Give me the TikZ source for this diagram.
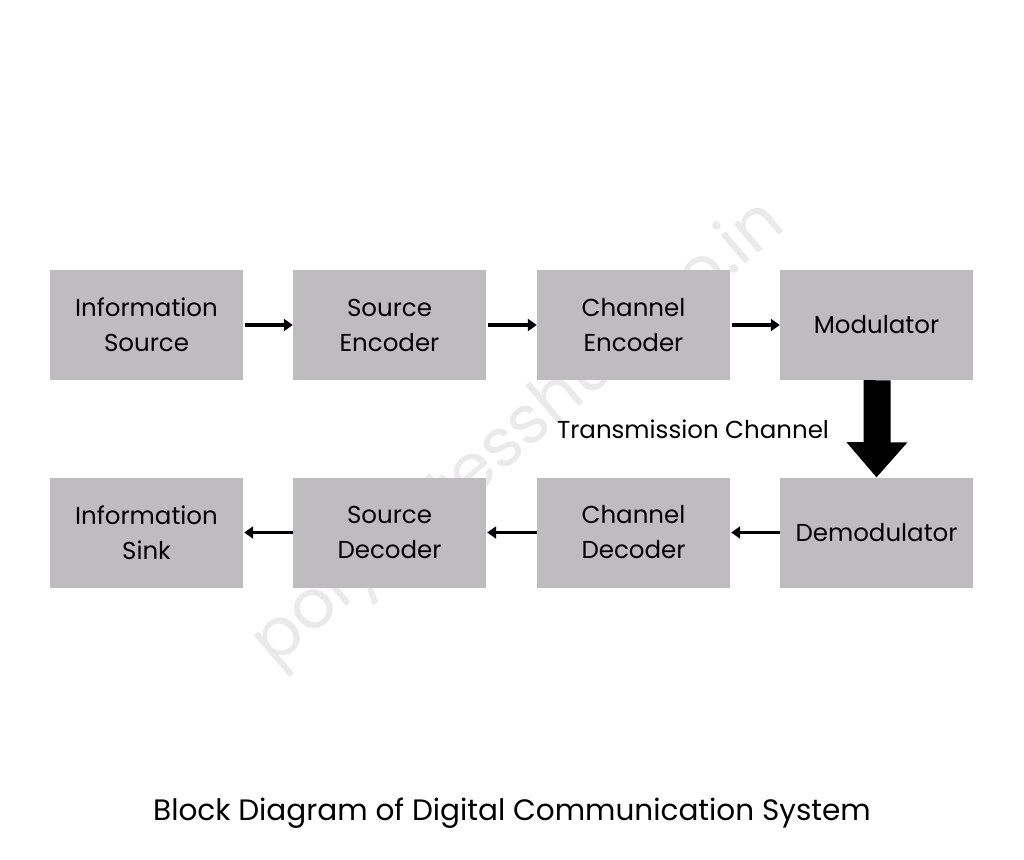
\documentclass[tikz,border=0pt]{standalone}
\usepackage{fontspec}
\setmainfont{Poppins}
\usetikzlibrary{arrows.meta}
\definecolor{boxgray}{HTML}{BEBCBF}
\definecolor{wm}{HTML}{EAEAEA}
\tikzset{
  blk/.style={fill=boxgray, draw=none, minimum width=193pt, minimum height=110pt, inner sep=0pt, align=center, font=\fontsize{24.5}{35}\selectfont},
  flow/.style={line width=3.2pt, -{Triangle[length=9pt,width=12pt]}},
  wmstyle/.style={rotate=40.6, font=\fontsize{68}{68}\selectfont},
}
\begin{document}
\begin{tikzpicture}[x=1pt,y=-1pt]
\useasboundingbox[fill=white] (0,0) rectangle (1024,859);
\node[wmstyle, text=wm] (wmark) at (520,435) {polynotesshub.co.in};
\node[blk] (is) at (146.5,325) {Information\\Source};
\node[blk] (se) at (389.5,325) {Source\\Encoder};
\node[blk] (ce) at (633.5,325) {Channel\\Encoder};
\node[blk] (mod) at (876.5,325) {Modulator};
\node[blk] (dem) at (876.5,532.5) {Demodulator};
\node[blk] (cd) at (633.5,532.5) {Channel\\Decoder};
\node[blk] (sd) at (389.5,532.5) {Source\\Decoder};
\node[blk] (sink) at (146.5,532.5) {Information\\Sink};
\draw[flow] ([xshift=2pt]is.east) -- (se.west);
\draw[flow] ([xshift=2pt]se.east) -- (ce.west);
\draw[flow] ([xshift=2pt]ce.east) -- (mod.west);
\draw[flow] (dem.west) -- ([xshift=1pt]cd.east);
\draw[flow] (cd.west) -- ([xshift=1pt]sd.east);
\draw[flow] (sd.west) -- ([xshift=1pt]sink.east);
\draw[fill=black, draw=none] (mod.south) ++(-13,0) -- ++(0,62) -- ++(-17,0) -- (dem.north) -- ++(31,-35) -- ++(-17,0) -- ++(0,-62) -- cycle;
\node[font=\fontsize{24.5}{30}\selectfont, anchor=center] (tc) at (693,429) {Transmission Channel};
\node[font=\fontsize{29.5}{34}\selectfont] (title) at (512,813) {Block Diagram of Digital Communication System};
\end{tikzpicture}
\end{document}
